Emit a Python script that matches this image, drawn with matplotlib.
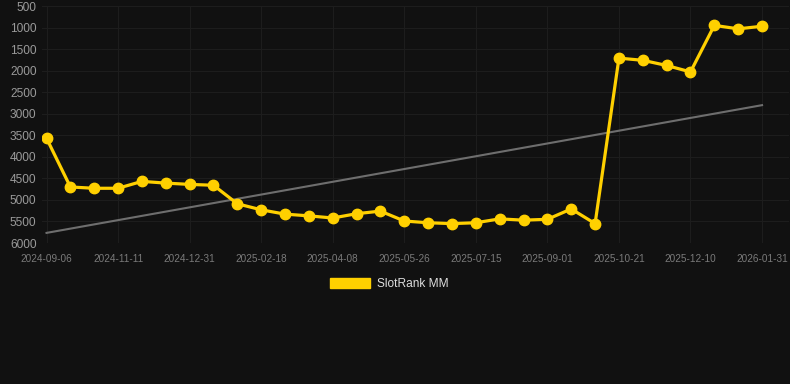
import numpy as np
import matplotlib
matplotlib.use("Agg")
import matplotlib.pyplot as plt
from matplotlib.patches import Patch

plt.rcParams['font.family'] = ['Liberation Sans', 'DejaVu Sans']

# ---- data ----
series_name = "SlotRank MM"
rank_values = [3570, 4700, 4730, 4730, 4570, 4610, 4640, 4660,
               5090, 5230, 5330, 5370, 5420, 5320, 5260, 5490,
               5530, 5550, 5530, 5440, 5470, 5450, 5210, 5550,
               1710, 1760, 1880, 2030, 950, 1030, 970]
tick_labels = ["2024-09-06", "2024-11-11", "2024-12-31", "2025-02-18",
               "2025-04-08", "2025-05-26", "2025-07-15", "2025-09-01",
               "2025-10-21", "2025-12-10", "2026-01-31"]
tick_step = 3
y_ticks = [500, 1000, 1500, 2000, 2500, 3000, 3500, 4000, 4500, 5000, 5500, 6000]

# ---- style ----
BG = "#111111"
GOLD = "#FFD000"
GRID = "#1d1d1d"
W, H = 790, 384

fig = plt.figure(figsize=(W / 100, H / 100), dpi=100, facecolor=BG)
ax = fig.add_axes([42 / W, (H - 243) / H, (789 - 42) / W, (243 - 6) / H])
ax.set_facecolor(BG)

x = np.arange(len(rank_values))
y = np.array(rank_values, dtype=float)

# trend line (linear fit)
coef = np.polyfit(x, y, 1)
ax.plot(x, np.polyval(coef, x), color="#6e6e6e", lw=1.5, zorder=2)

ax.plot(x, y, color=GOLD, lw=2.3, marker="o", markersize=7.5,
        markerfacecolor=GOLD, markeredgecolor=GOLD, zorder=3)

ax.set_ylim(6000, 500)
ax.set_yticks(y_ticks)
ax.set_yticklabels([str(v) for v in y_ticks])
ax.set_xlim(-0.19, len(rank_values) - 1 + 1.13)
ax.set_xticks(x[::tick_step])
ax.set_xticklabels(tick_labels)

ax.grid(True, color=GRID, lw=0.8)
ax.set_axisbelow(True)
for s in ax.spines.values():
    s.set_visible(False)
ax.tick_params(axis="y", length=0, pad=4, labelsize=8.6, labelcolor="#9a9a9a")
ax.tick_params(axis="x", length=0, pad=8, labelsize=7.2, labelcolor="#7a7a7a")

handle = Patch(facecolor=GOLD, edgecolor=GOLD)
fig.legend([handle], [series_name], loc="center",
           bbox_to_anchor=(389.5 / W, 1 - 284 / H), frameon=False,
           fontsize=8.6, labelcolor="#dddddd", handlelength=3.33,
           handleheight=0.92, handletextpad=0.56, borderpad=0)

fig.savefig("out.png", dpi=100, facecolor=BG)
